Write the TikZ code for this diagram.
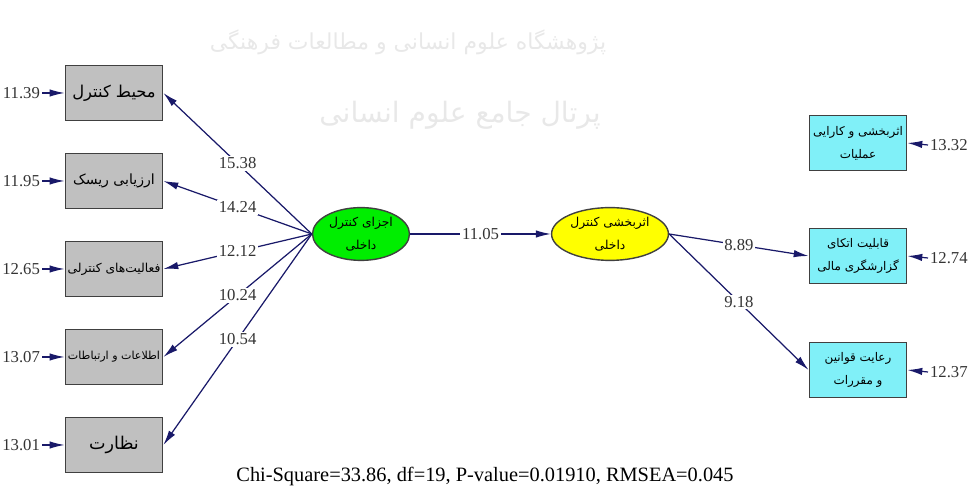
\documentclass[tikz,border=0pt]{standalone}
\usepackage{fontspec}
\setmainfont{Liberation Serif}
\newfontfamily\farsi[Script=Arabic]{DejaVu Sans}
\TeXXeTstate=1
\usepackage{xcolor}
\usepackage{tikz}
\usetikzlibrary{shapes}
\usetikzlibrary{arrows.meta}
\usetikzlibrary{positioning}

\definecolor{pathblue}{RGB}{25,25,105}
\definecolor{boxgray}{RGB}{192,192,192}
\definecolor{boxcyan}{RGB}{128,240,248}
\definecolor{latgreen}{RGB}{0,238,0}
\definecolor{latyellow}{RGB}{255,255,0}
\newcommand{\fa}[1]{\beginR #1\endR}

\tikzset{
    obsbox/.style={draw=black!75, line width=1pt, minimum width=1.94cm, minimum height=1.1cm, inner sep=1pt, align=center},
    leftbox/.style={obsbox, fill=boxgray},
    rightbox/.style={obsbox, fill=boxcyan, font=\farsi\fontsize{6.8}{13}\selectfont},
    latent/.style={ellipse, draw=black!75, line width=0.8pt, minimum width=1.94cm, minimum height=1.04cm, inner sep=1pt, align=center, font=\farsi\fontsize{7}{13}\selectfont},
    loading/.style={draw=pathblue, line width=0.7pt, -{Latex[length=8.5pt,width=4.2pt]}},
    coef/.style={fill=white, inner sep=1pt, text=black!80, font=\fontsize{9.5}{11}\selectfont},
    errnum/.style={inner sep=1pt, text=black!80, font=\fontsize{9.5}{11}\selectfont}
}

\begin{document}
\begin{tikzpicture}[x=0.02cm, y=-0.02cm]
    \useasboundingbox (0,0) rectangle (975,492);

    % watermark
    \node[text=black!9, font=\farsi\fontsize{12.5}{15}\selectfont] (wm1) at (408,42) {\fa{پژوهشگاه علوم انسانی و مطالعات فرهنگی}};
    \node[text=black!9, font=\farsi\fontsize{16}{19}\selectfont] (wm2) at (460,115) {\fa{پرتال جامع علوم انسانی}};

    % observed variables, left
    \node[leftbox, font=\farsi\fontsize{9.3}{12}\selectfont] (env) at (114,93) {\fa{محیط کنترل}};
    \node[leftbox, font=\farsi\fontsize{8}{12}\selectfont] (risk) at (114,181) {\fa{ارزیابی ریسک}};
    \node[leftbox, font=\farsi\fontsize{7}{10}\selectfont] (act) at (114,269) {\fa{فعالیت‌های کنترلی}};
    \node[leftbox, font=\farsi\fontsize{6.3}{10}\selectfont] (info) at (114,357) {\fa{اطلاعات و ارتباطات}};
    \node[leftbox, font=\farsi\fontsize{10}{12}\selectfont] (mon) at (114,445) {\fa{نظارت}};

    % latent variables
    \node[latent, fill=latgreen] (comp) at (361,234) {\fa{اجزای کنترل}\\\fa{داخلی}};
    \node[latent, fill=latyellow] (eff) at (610,234) {\fa{اثربخشی کنترل}\\\fa{داخلی}};

    % observed variables, right
    \node[rightbox] (oper) at (858,143) {\fa{اثربخشی و کارایی}\\\fa{عملیات}};
    \node[rightbox] (fin) at (858,256) {\fa{قابلیت اتکای}\\\fa{گزارشگری مالی}};
    \node[rightbox] (law) at (858,370) {\fa{رعایت قوانین}\\\fa{و مقررات}};

    % error terms
    \node[errnum, anchor=east] (e1) at (42,93) {11.39};
    \node[errnum, anchor=east] (e2) at (42,181) {11.95};
    \node[errnum, anchor=east] (e3) at (42,269) {12.65};
    \node[errnum, anchor=east] (e4) at (42,357) {13.07};
    \node[errnum, anchor=east] (e5) at (42,445) {13.01};
    \node[errnum, anchor=west] (e6) at (928,145) {13.32};
    \node[errnum, anchor=west] (e7) at (928,258) {12.74};
    \node[errnum, anchor=west] (e8) at (928,372) {12.37};

    \draw [loading] (e1) -- (env.west);
    \draw [loading] (e2) -- (risk.west);
    \draw [loading] (e3) -- (act.west);
    \draw [loading] (e4) -- (info.west);
    \draw [loading] (e5) -- (mon.west);
    \draw [loading] (e6.west) -- (oper.east);
    \draw [loading] (e7.west) -- (fin.east);
    \draw [loading] (e8.west) -- (law.east);

    % loadings
    \draw [loading] (comp.west) to node[coef, midway] {15.38} (env.east);
    \draw [loading] (comp.west) to node[coef, midway] {14.24} (risk.east);
    \draw [loading] (comp.west) to node[coef, midway] {12.12} (act.east);
    \draw [loading] (comp.west) to node[coef, midway] {10.24} (info.east);
    \draw [loading] (comp.west) to node[coef, midway] {10.54} (mon.east);
    \draw [loading] (comp.east) to node[coef, midway] {11.05} (eff.west);
    \draw [loading] (eff.east) to node[coef, midway] {8.89} (fin.west);
    \draw [loading] (eff.east) to node[coef, midway] {9.18} (law.west);

    \node[font=\fontsize{11.6}{13}\selectfont] (fit) at (485,477) {Chi-Square=33.86, df=19, P-value=0.01910, RMSEA=0.045};
\end{tikzpicture}
\end{document}
